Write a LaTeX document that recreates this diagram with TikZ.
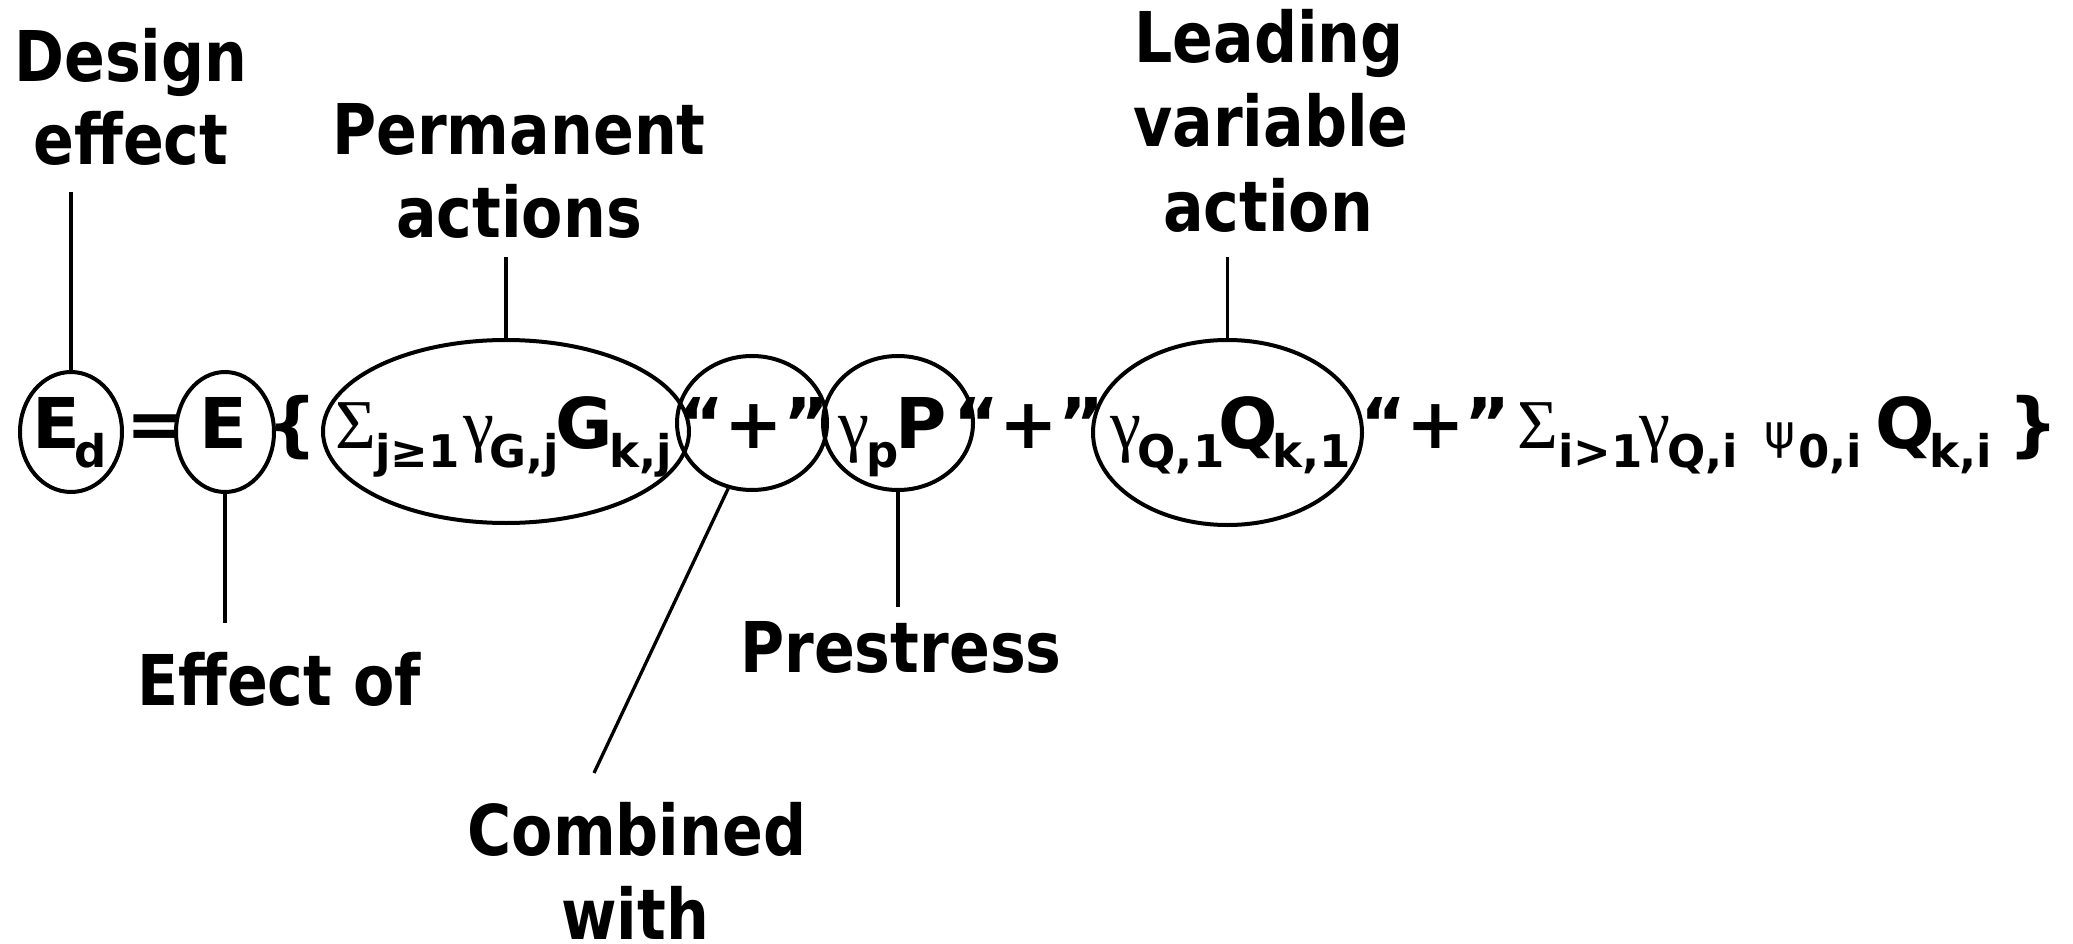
\documentclass[tikz,border=0pt]{standalone}
\usepackage{fontspec}
\usetikzlibrary{shapes.geometric}
\newfontfamily\lblfont{DejaVu Sans}[FakeStretch=0.86]
\newfontfamily\frmfont{DejaVu Sans}
\newfontfamily\grkfont{Liberation Serif}
\begin{document}
\begin{tikzpicture}[x=1pt,y=-1pt,
  lbl/.style={inner sep=0pt, anchor=base, font=\lblfont\bfseries\fontsize{70}{84}\selectfont},
  tok/.style={inner sep=0pt, anchor=base, font=\frmfont\bfseries\fontsize{70}{84}\selectfont},
  sb/.style={inner sep=0pt, anchor=base, font=\frmfont\bfseries\fontsize{45}{50}\selectfont},
  grk/.style={inner sep=0pt, anchor=base, font=\grkfont\fontsize{70}{84}\selectfont},
  psi/.style={inner sep=0pt, anchor=base, font=\frmfont\fontsize{47}{50}\selectfont},
  ring/.style={ellipse, draw, line width=4pt, inner sep=0pt},
  lead/.style={line width=3.3pt}]
\path[use as bounding box] (0,0) rectangle (2073,944);

% ---- formula: E_d = E{ ... }
\node[tok] (t1) at (56.5,448) {E};
\node[sb]  (t2) at (91,467) {d};
\node[tok] (t3) at (156,448) {=};
\node[tok] (t4) at (223.5,448) {E};
\node[tok] (t5) at (292.5,448) {\{};
\node[grk] (t6) at (356,448) {Σ};
\node[sb]  (t7) at (417.5,467) {j≥1};
\node[grk] (t8) at (478.5,448) {γ};
\node[sb]  (t9) at (524.5,467) {G,j};
\node[tok] (t10) at (584.5,448) {G};
\node[sb]  (t11) at (641,467) {k,j};
\node[tok] (t12) at (754,448) {“+”};
\node[grk] (t13) at (853.5,448) {γ};
\node[sb]  (t14) at (883,467) {p};
\node[tok] (t15) at (921,448) {P};
\node[tok] (t16) at (1029,448) {“+”};
\node[grk] (t17) at (1126,448) {γ};
\node[sb]  (t18) at (1181,467) {Q,1};
\node[tok] (t19) at (1248,448) {Q};
\node[sb]  (t20) at (1311.5,467) {k,1};
\node[tok] (t21) at (1435.5,448) {“+”};
\node[grk] (t22) at (1538,448) {Σ};
\node[sb]  (t23) at (1600.5,467) {i>1};
\node[grk] (t24) at (1655,448) {γ};
\node[sb]  (t25) at (1703,467) {Q,i};
\node[psi] (t26) at (1779.5,448) {ψ};
\node[sb]  (t27) at (1830,467) {0,i};
\node[tok] (t28) at (1905,448) {Q};
\node[sb]  (t29) at (1961,467) {k,i};
\node[tok] (t30) at (2033.5,448) {\}};

% ---- rings around terms
\node[ring, minimum width=102pt, minimum height=120pt] (ed)   at (71,432) {};
\node[ring, minimum width=98pt,  minimum height=120pt] (eff)  at (225,432) {};
\node[ring, minimum width=366pt, minimum height=183pt] (perm) at (506,431.5) {};
\node[ring, minimum width=150pt, minimum height=134pt] (plus) at (752,423) {};
\node[ring, minimum width=150pt, minimum height=134pt] (pre)  at (898,423) {};
\node[ring, minimum width=269pt, minimum height=185pt] (lead) at (1227.5,432.5) {};

% ---- labels
\node[lbl] (design1) at (131,82) {Design};
\node[lbl] (design2) at (131,165) {effect};
\node[lbl] (perm1) at (519,155) {Permanent};
\node[lbl] (perm2) at (519,238) {actions};
\node[lbl] (lead1) at (1269,63) {Leading};
\node[lbl] (lead2) at (1271,147) {variable};
\node[lbl] (lead3) at (1268,232) {action};
\node[lbl] (effof) at (279,705) {Effect of};
\node[lbl] (prestr) at (901,672) {Prestress};
\node[lbl] (comb1) at (637,855) {Combined};
\node[lbl] (comb2) at (635,939) {with};

% ---- leader lines
\draw[lead, shorten >=27pt] (ed.north) -- (ed.north |- design2.base);
\draw[lead, shorten >=19pt] (perm.north) -- (perm.north |- perm2.base);
\draw[lead, shorten >=25pt] (lead.north) -- (lead.north |- lead3.base);
\draw[lead, shorten >=29pt] (eff.south) -- (eff.south |- effof.north);
\draw[lead, shorten >=14pt] (pre.south) -- (pre.south |- prestr.north);
\coordinate (combend) at (594,773);
\draw[lead] (plus.250) -- (combend);
\end{tikzpicture}
\end{document}
